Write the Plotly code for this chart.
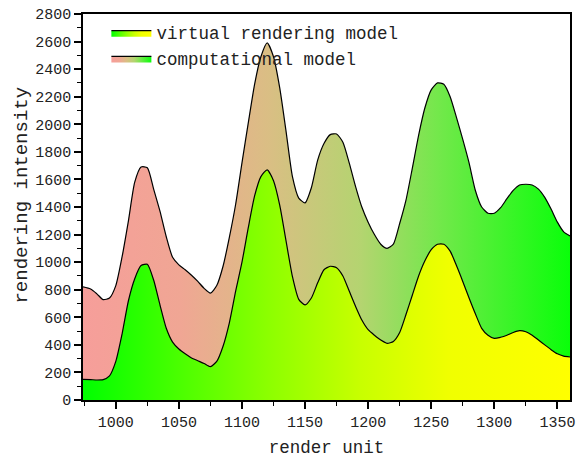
import plotly.graph_objects as go

x_units = [974, 980, 985, 990, 995, 1000, 1005, 1010, 1015, 1020, 1025, 1030, 1035, 1040,
           1045, 1050, 1055, 1060, 1065, 1070, 1075, 1080, 1085, 1090, 1095, 1100, 1105,
           1110, 1115, 1120, 1125, 1130, 1135, 1140, 1145, 1150, 1155, 1160, 1165, 1170,
           1175, 1180, 1185, 1190, 1195, 1200, 1205, 1210, 1215, 1220, 1225, 1230, 1235,
           1240, 1245, 1250, 1255, 1260, 1265, 1270, 1275, 1280, 1285, 1290, 1295, 1300,
           1305, 1310, 1315, 1320, 1325, 1330, 1335, 1340, 1345, 1350, 1355, 1360]

computational = [820, 805, 770, 728, 740, 830, 1040, 1300, 1580, 1690, 1685, 1530, 1370, 1184,
                 1035, 980, 945, 905, 860, 810, 775, 830, 970, 1180, 1420, 1720, 2010,
                 2290, 2490, 2590, 2490, 2260, 1945, 1620, 1465, 1430, 1540, 1740, 1860, 1925,
                 1930, 1870, 1720, 1550, 1400, 1290, 1200, 1130, 1100, 1130, 1280, 1450, 1680,
                 1920, 2120, 2250, 2300, 2290, 2200, 2050, 1890, 1720, 1520, 1400, 1355, 1355,
                 1395, 1460, 1520, 1560, 1565, 1560, 1530, 1470, 1385, 1290, 1220, 1190]

virtual = [150, 148, 145, 148, 175, 280, 480, 720, 880, 975, 985, 870, 690, 520,
           420, 370, 335, 305, 285, 265, 242, 280, 390, 560, 790, 1000, 1250,
           1480, 1620, 1670, 1590, 1410, 1150, 895, 730, 690, 740, 850, 945, 970,
           960, 900, 790, 680, 580, 510, 470, 435, 411, 425, 490, 620, 760,
           900, 1010, 1090, 1130, 1130, 1080, 975, 860, 740, 625, 520, 470, 447,
           455, 470, 490, 503, 495, 470, 435, 400, 365, 335, 318, 312]

y_ticks = list(range(0, 2801, 200))
x_ticks = [1000, 1050, 1100, 1150, 1200, 1250, 1300, 1350]

FONT = "Liberation Mono"
TXT = "#222222"

comp_scale = [[0.0, "rgb(246,158,154)"], [0.2, "rgb(240,166,148)"], [0.38, "rgb(218,190,132)"],
              [0.57, "rgb(180,212,112)"], [0.73, "rgb(115,232,75)"], [1.0, "rgb(10,255,10)"]]
virt_scale = [[0.0, "rgb(0,255,0)"], [0.2, "rgb(75,255,0)"], [0.38, "rgb(140,255,0)"],
              [0.57, "rgb(200,255,0)"], [0.75, "rgb(240,255,0)"], [1.0, "rgb(255,255,0)"]]

fig = go.Figure()
fig.add_trace(go.Scatter(
    x=x_units, y=computational, name="computational model", mode="lines",
    line=dict(color="black", width=1.2, shape="spline", smoothing=0.6),
    fill="tozeroy",
    fillgradient=dict(type="horizontal", colorscale=comp_scale),
))
fig.add_trace(go.Scatter(
    x=x_units, y=virtual, name="virtual rendering model", mode="lines",
    line=dict(color="black", width=1.2, shape="spline", smoothing=0.6),
    fill="tozeroy",
    fillgradient=dict(type="horizontal", colorscale=virt_scale),
))

fig.update_layout(
    width=576, height=458,
    margin=dict(l=83, r=6, t=14, b=58, autoexpand=False),
    paper_bgcolor="white", plot_bgcolor="white",
    font=dict(family=FONT, color=TXT),
    showlegend=True,
    legend=dict(x=0.048, y=0.998, xanchor="left", yanchor="top",
                traceorder="reversed", bgcolor="rgba(0,0,0,0)",
                font=dict(family=FONT, size=17.5, color=TXT),
                itemwidth=40, tracegroupgap=0),
    xaxis=dict(
        range=[974, 1360], tickvals=x_ticks, ticktext=[str(v) for v in x_ticks],
        showgrid=False, zeroline=False, automargin=False,
        showline=True, linecolor="black", linewidth=1.5, mirror=True,
        ticks="outside", ticklen=7, tickwidth=1.5, tickcolor="black",
        minor=dict(dtick=25, tick0=1000, ticks="outside", ticklen=4, tickwidth=1, tickcolor="black"),
        tickfont=dict(family=FONT, size=15, color=TXT),
        title=dict(text="render unit", font=dict(family=FONT, size=17.5, color=TXT), standoff=11),
    ),
    yaxis=dict(
        range=[0, 2800], tickvals=y_ticks, ticktext=[str(v) for v in y_ticks],
        showgrid=False, zeroline=False, automargin=False,
        showline=True, linecolor="black", linewidth=1.5, mirror=True,
        ticks="outside", ticklen=7, tickwidth=1.5, tickcolor="black",
        minor=dict(dtick=100, tick0=0, ticks="outside", ticklen=4, tickwidth=1, tickcolor="black"),
        tickfont=dict(family=FONT, size=15, color=TXT),
    ),
    annotations=[dict(text="rendering intensity", xref="paper", yref="paper",
                      x=-0.125, y=0.53, xanchor="center", yanchor="middle",
                      textangle=-90, showarrow=False,
                      font=dict(family=FONT, size=19, color=TXT))],
)

fig.write_html("out.html", config={"displayModeBar": False},
               post_script="document.body.style.margin='0';document.body.style.overflow='hidden';")
